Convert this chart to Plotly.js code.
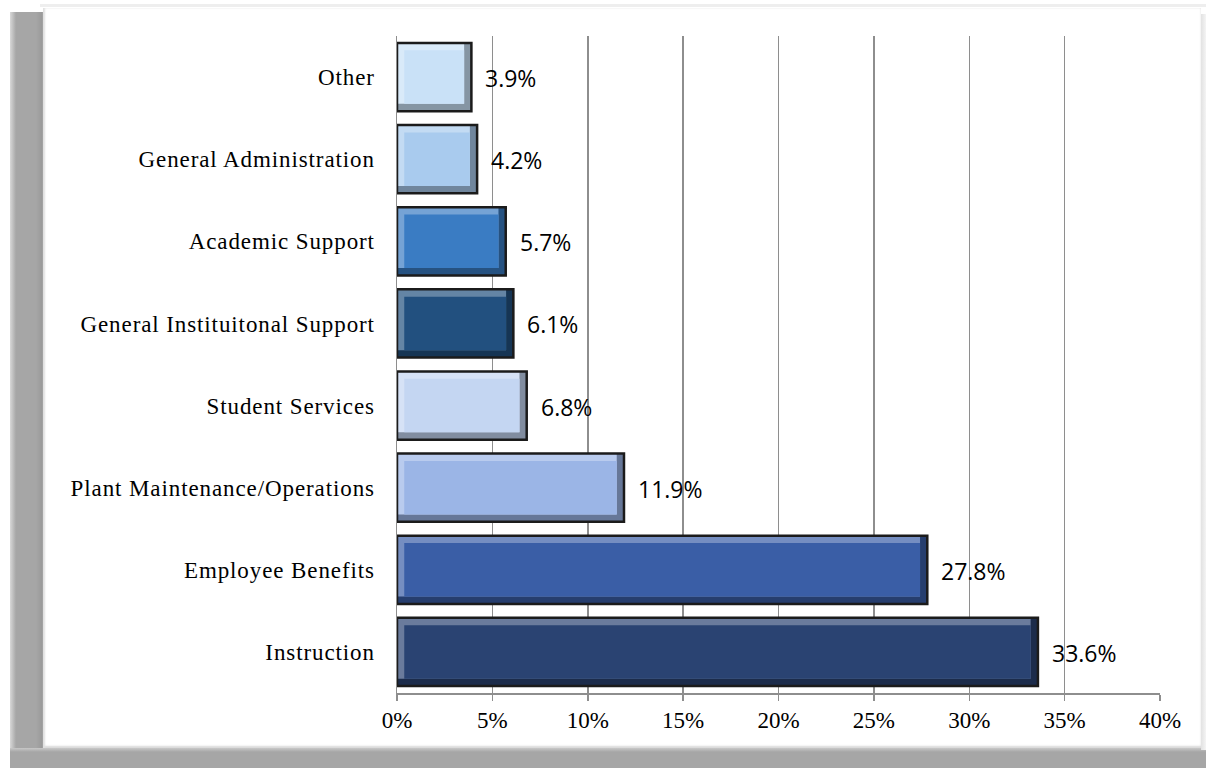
<!DOCTYPE html>
<html>
<head>
<meta charset="utf-8">
<script src="https://cdn.plot.ly/plotly-3.0.1.min.js"></script>
<style>
  html, body { margin: 0; padding: 0; background: #ffffff; }
  #wrap { position: relative; width: 1206px; height: 768px; overflow: hidden; background: #ffffff; }
  #topline { position: absolute; left: 40px; top: 4px; width: 1166px; height: 3px; background: #eeeeee; }
  #lshadow { position: absolute; left: 10px; top: 12px; width: 34px; height: 756px;
             background: linear-gradient(to right, #d8d8d8 0px, #a6a6a6 6px, #a6a6a6 26px, #9a9a9a 32px, #bdbdbd 34px); }
  #bshadow { position: absolute; left: 10px; top: 748px; width: 1196px; height: 20px;
             background: linear-gradient(to bottom, #c8c8c8 0px, #a6a6a6 4px, #a6a6a6 20px); }
  #rshadow { position: absolute; left: 1201px; top: 14px; width: 5px; height: 736px;
             background: linear-gradient(to right, #e2e2e2, #f4f4f4); }
  #panel { position: absolute; left: 43px; top: 8px; width: 1158px; height: 740px; background: #ffffff;
           box-shadow: inset 2px 0 2px #e0e0e0, inset 0 -2px 2px #d8d8d8; }
  #chart { position: absolute; left: 0; top: 0; width: 1206px; height: 768px; }
  #chart .ytick text { letter-spacing: 0.9px; }
</style>
</head>
<body>
<div id="wrap">
  <div id="topline"></div>
  <div id="lshadow"></div>
  <div id="bshadow"></div>
  <div id="rshadow"></div>
  <div id="panel"></div>
  <div id="chart"></div>
</div>
<script>
const categories = [
  "Instruction",
  "Employee Benefits",
  "Plant Maintenance/Operations",
  "Student Services",
  "General Instituitonal Support",
  "Academic Support",
  "General Administration",
  "Other"
];
const values = [33.6, 27.8, 11.9, 6.8, 6.1, 5.7, 4.2, 3.9];
const barColors = ["#2a4372", "#3a5ea6", "#9bb5e6", "#c4d6f2", "#22507f", "#3a7cc3", "#a9cbee", "#c9e1f7"];
const tickValues = [0, 5, 10, 15, 20, 25, 30, 35, 40];
const tickLabels = ["0%", "5%", "10%", "15%", "20%", "25%", "30%", "35%", "40%"];

// colour helpers for the bevel look
function mix(hex, target, t) {
  const n = parseInt(hex.slice(1), 16);
  const r = (n >> 16) & 255, g = (n >> 8) & 255, b = n & 255;
  const m = c => Math.round(c + (target - c) * t);
  return "rgb(" + m(r) + "," + m(g) + "," + m(b) + ")";
}
const darkColors = barColors.map(c => mix(c, 0, 0.34));
const lightColors = barColors.map(c => mix(c, 255, 0.3));

const BW = 0.83;      // bar width (category units)
const IY = 0.09;      // bevel inset (category units)
const IX = 0.38;      // bevel inset (axis units)

const common = { type: "bar", orientation: "h", y: categories, hoverinfo: "skip", width: BW };

const shadeLayer = Object.assign({}, common, {
  x: values, marker: { color: darkColors, line: { width: 0 } }
});
const lightLayer = Object.assign({}, common, {
  x: values.map(v => v - IX), base: 0,
  width: BW - IY, offset: -BW / 2 + IY,
  marker: { color: lightColors, line: { width: 0 } }
});
const faceLayer = Object.assign({}, common, {
  x: values.map(v => v - 2 * IX), base: IX,
  width: BW - 2 * IY, offset: -BW / 2 + IY,
  marker: { color: barColors, line: { width: 0 } }
});
const outline = Object.assign({}, common, {
  x: values, marker: { color: "rgba(0,0,0,0)", line: { color: "#1b1b1b", width: 2.5 } }
});

const annotations = values.map((v, i) => ({
  x: v, y: categories[i], xref: "x", yref: "y",
  text: v.toFixed(1) + "%",
  showarrow: false, xanchor: "left", xshift: 12, yshift: -1,
  font: { family: "Open Sans, Noto Sans, sans-serif", size: 23, color: "#000000" }
}));

const layout = {
  width: 1206, height: 768,
  margin: { l: 397, r: 46, t: 36, b: 75, pad: 0 },
  paper_bgcolor: "rgba(0,0,0,0)",
  plot_bgcolor: "rgba(0,0,0,0)",
  showlegend: false,
  barmode: "overlay",
  xaxis: {
    range: [0, 40],
    tickvals: tickValues,
    ticktext: tickLabels,
    showgrid: true, gridcolor: "#8e8e8e", gridwidth: 1.5,
    zeroline: false,
    showline: true, linecolor: "#8e8e8e", linewidth: 1.5,
    ticks: "outside", ticklen: 6, tickcolor: "#8e8e8e", tickwidth: 1.5,
    tickfont: { family: "Liberation Serif, Times New Roman, serif", size: 23, color: "#000000" },
    fixedrange: true
  },
  yaxis: {
    type: "category",
    categoryorder: "array", categoryarray: categories,
    showgrid: false, zeroline: false,
    showline: true, linecolor: "#8e8e8e", linewidth: 1.5,
    ticks: "", ticklabelstandoff: 16,
    tickfont: { family: "Liberation Serif, Times New Roman, serif", size: 23, color: "#000000" },
    fixedrange: true
  },
  annotations: annotations
};

Plotly.newPlot("chart", [shadeLayer, lightLayer, faceLayer, outline], layout, { displayModeBar: false, staticPlot: true });
</script>
</body>
</html>
